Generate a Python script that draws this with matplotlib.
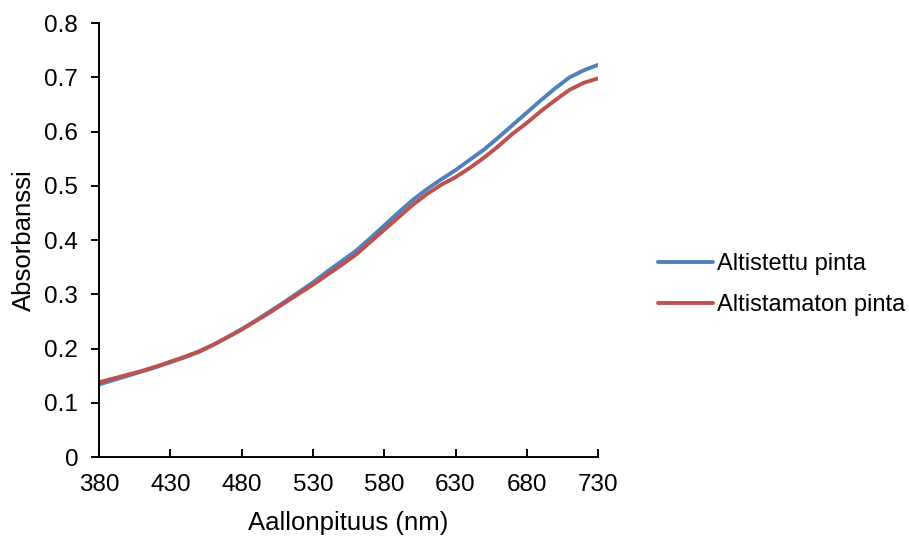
import matplotlib
matplotlib.use("Agg")
import matplotlib.pyplot as plt

plt.rcParams['font.family'] = ['Liberation Sans', 'DejaVu Sans']

wavelength = [380, 390, 400, 410, 420, 430, 440, 450, 460, 470, 480, 490,
              500, 510, 520, 530, 540, 550, 560, 570, 580, 590, 600, 610,
              620, 630, 640, 650, 660, 670, 680, 690, 700, 710, 720, 730]

altistettu = [0.134, 0.142, 0.150, 0.158, 0.166, 0.175, 0.184, 0.194, 0.207, 0.221,
              0.236, 0.252, 0.269, 0.286, 0.304, 0.322, 0.342, 0.361, 0.380, 0.403,
              0.427, 0.451, 0.474, 0.494, 0.512, 0.529, 0.548, 0.567, 0.589, 0.612,
              0.635, 0.658, 0.680, 0.700, 0.713, 0.723]

altistamaton = [0.138, 0.145, 0.152, 0.159, 0.167, 0.176, 0.185, 0.195, 0.207, 0.221,
                0.235, 0.251, 0.267, 0.284, 0.301, 0.318, 0.336, 0.354, 0.373, 0.396,
                0.419, 0.442, 0.465, 0.485, 0.502, 0.516, 0.533, 0.552, 0.573, 0.596,
                0.616, 0.638, 0.658, 0.677, 0.690, 0.698]

xticks = [380, 430, 480, 530, 580, 630, 680, 730]
yticks = [0, 0.1, 0.2, 0.3, 0.4, 0.5, 0.6, 0.7, 0.8]
ylabels = ["0", "0.1", "0.2", "0.3", "0.4", "0.5", "0.6", "0.7", "0.8"]


def main():
    fig = plt.figure(figsize=(9.09, 5.36), dpi=100)
    ax = fig.add_axes([0.109, 0.147, 0.549, 0.810])

    ax.plot(wavelength, altistettu, color="#4F81BD", lw=2.8,
            label="Altistettu pinta", solid_capstyle="round")
    ax.plot(wavelength, altistamaton, color="#C0504D", lw=2.8,
            label="Altistamaton pinta", solid_capstyle="round")

    ax.set_xlim(380, 730)
    ax.set_ylim(0, 0.8)
    ax.set_xticks(xticks)
    ax.set_yticks(yticks)
    ax.set_yticklabels(ylabels)

    for s in ["top", "right"]:
        ax.spines[s].set_visible(False)
    for s in ["left", "bottom"]:
        ax.spines[s].set_linewidth(1.4)
        ax.spines[s].set_color("black")

    ax.tick_params(axis="x", direction="in", length=6, width=1.4,
                   labelsize=17.5, pad=12)
    ax.tick_params(axis="y", direction="out", length=6, width=1.4,
                   labelsize=17.5, pad=9)

    ax.set_xlabel("Aallonpituus (nm)", fontsize=18.5, labelpad=11)
    ax.set_ylabel("Absorbanssi", fontsize=18.5, labelpad=6)

    fig.legend(loc="center left", bbox_to_anchor=(0.701, 0.469),
               frameon=False, fontsize=17, handlelength=2.3,
               labelspacing=0.8, handletextpad=0.18)

    fig.savefig("out.png", dpi=100)


if __name__ == "__main__":
    main()
